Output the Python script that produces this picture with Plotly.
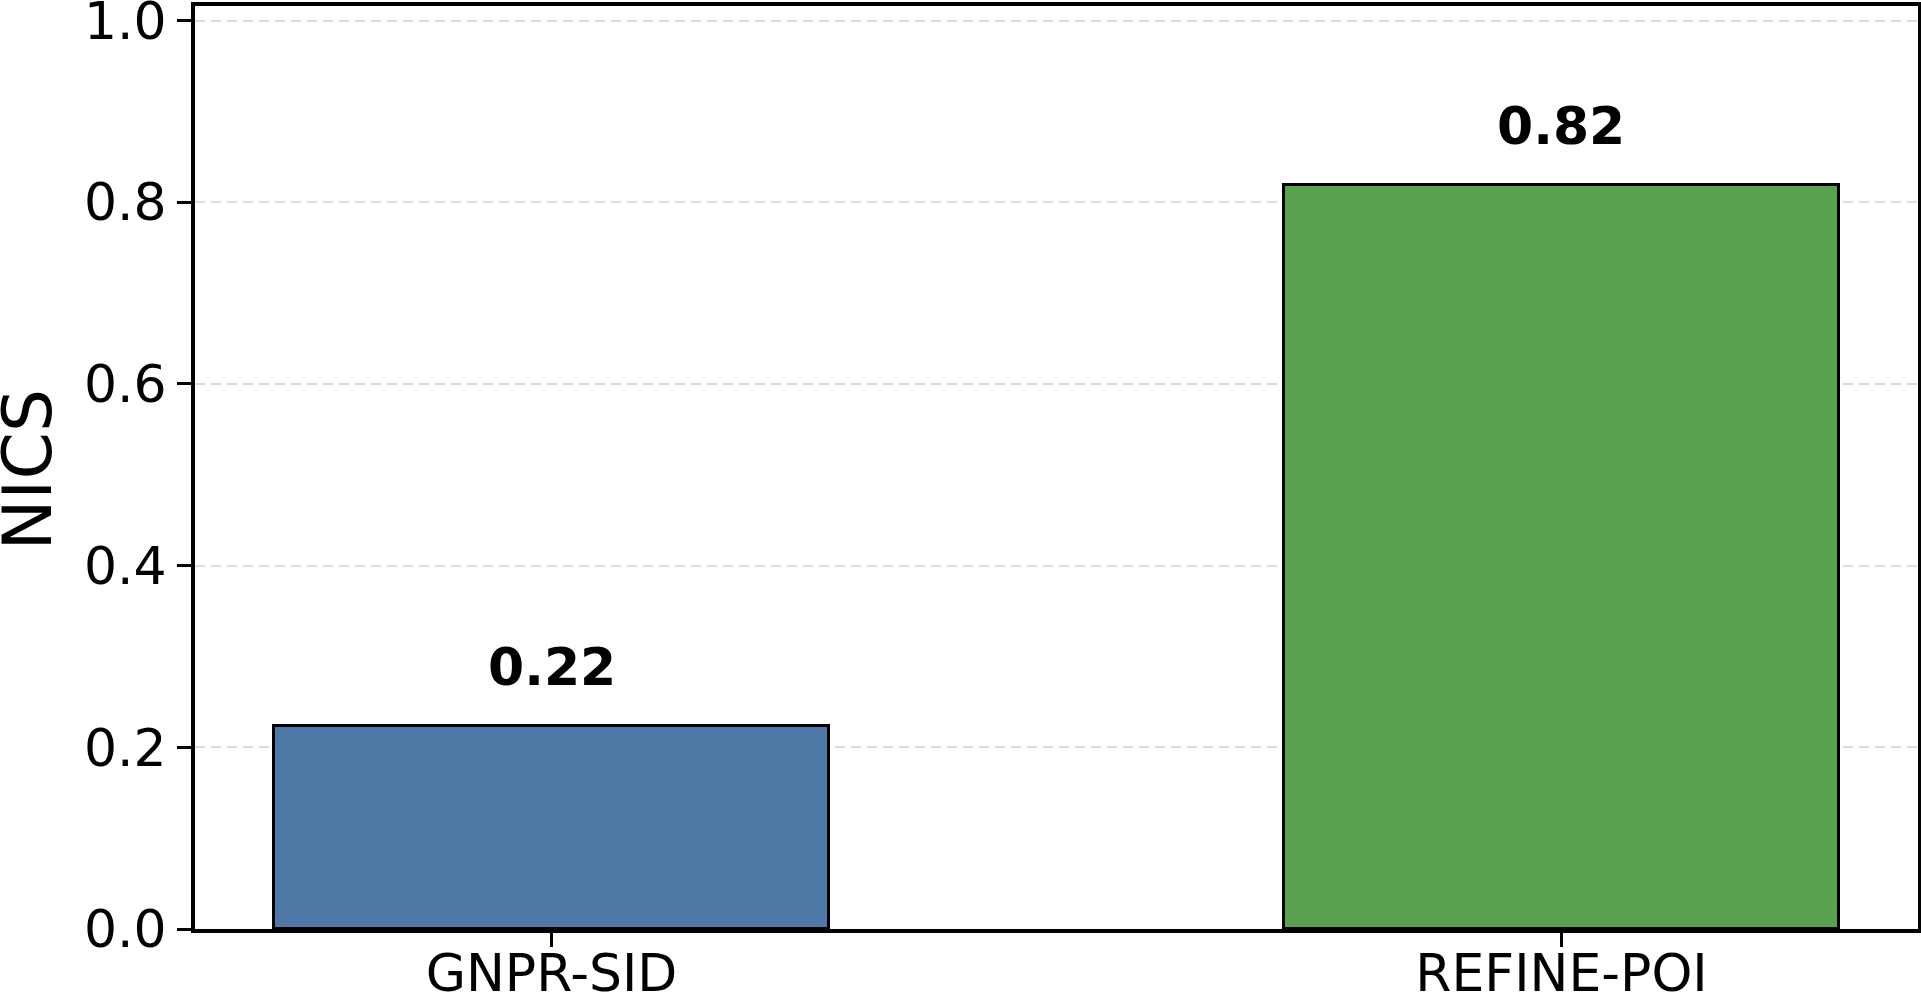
import plotly.graph_objects as go

categories = ["GNPR-SID", "REFINE-POI"]
values = [0.224, 0.819]
labels = ["0.22", "0.82"]
colors = ["#4e79a7", "#59a14f"]
y_ticks = [0.0, 0.2, 0.4, 0.6, 0.8, 1.0]
y_title = "NICS"

FONT = "DejaVu Sans"

fig = go.Figure()
fig.add_trace(go.Bar(
    x=categories, y=values, width=0.55,
    marker=dict(color=colors, line=dict(color="black", width=3)),
    showlegend=False, hoverinfo="skip",
))

for c, v, t in zip(categories, values, labels):
    fig.add_annotation(x=c, y=v, text="<b>%s</b>" % t, showarrow=False,
                       yanchor="bottom", yshift=27,
                       font=dict(family=FONT, size=52, color="black"))

# y-axis title placed as a rotated annotation left of the tick labels
fig.add_annotation(xref="paper", yref="paper", x=-0.0975, y=0.5,
                   text=y_title, textangle=-90, showarrow=False,
                   xanchor="center", yanchor="middle", yshift=-2,
                   font=dict(family=FONT, size=68, color="black"))

fig.update_layout(
    width=1921, height=1001,
    margin=dict(l=195, r=3, t=6, b=72, pad=0),
    paper_bgcolor="white", plot_bgcolor="white",
    font=dict(family=FONT, color="black"),
    bargap=0,
)
fig.update_xaxes(
    range=[-0.353, 1.353], automargin=False,
    showline=True, linecolor="black", linewidth=4, mirror=True,
    ticks="outside", ticklen=14, tickwidth=3, tickcolor="black",
    tickfont=dict(family=FONT, size=52, color="black"),
    ticklabeloverflow="allow", ticklabelstandoff=-18,
    showgrid=False, zeroline=False,
)
fig.update_yaxes(
    range=[0, 1.016], automargin=False,
    tickvals=y_ticks, ticktext=["%.1f" % t for t in y_ticks],
    showline=True, linecolor="black", linewidth=4, mirror=True,
    ticks="outside", ticklen=14, tickwidth=3, tickcolor="black",
    tickfont=dict(family=FONT, size=52, color="black"),
    ticklabeloverflow="allow",
    showgrid=True, gridcolor="#dcdcdc", gridwidth=2, griddash="10px,6px",
    zeroline=False,
)

fig.write_html("out.html")
